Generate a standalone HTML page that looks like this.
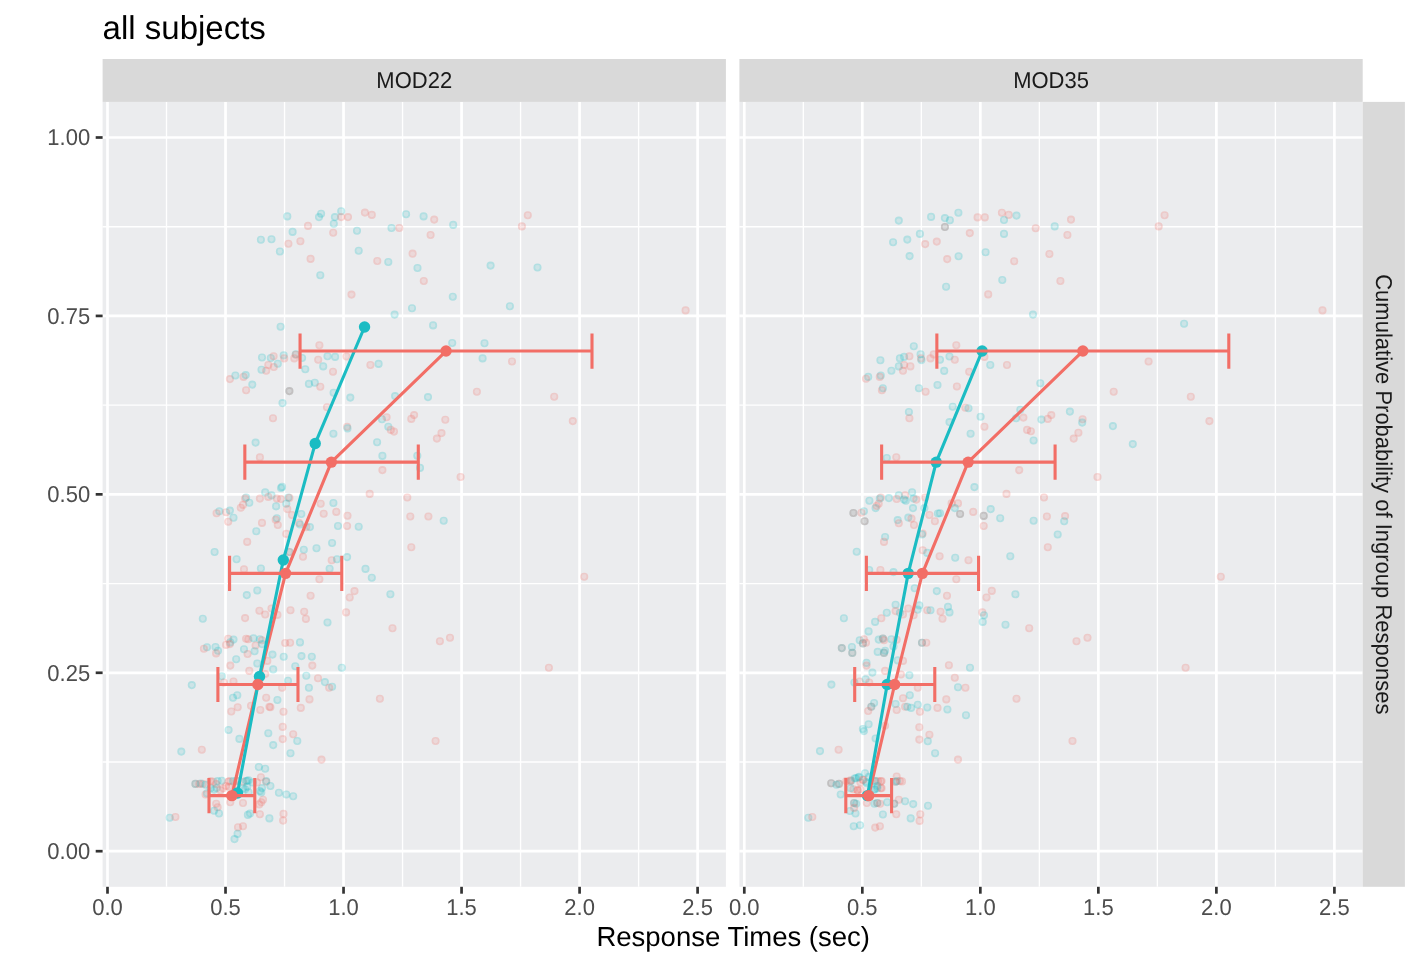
<!DOCTYPE html><html><head><meta charset="utf-8"><style>html,body{margin:0;padding:0;background:#fff;width:1420px;height:967px;overflow:hidden;}svg{display:block;}text{font-family:"Liberation Sans",sans-serif;text-rendering:geometricPrecision;}</style></head><body>
<div style="position:absolute;left:0;top:0;width:1420px;height:967px;will-change:transform">
<svg width="1420" height="967" viewBox="0 0 1420 967">
<defs><g id="pr"><circle r="2.5" fill="#F26E66" fill-opacity="0.15"/><circle r="3.25" fill="none" stroke="#F26E66" stroke-opacity="0.27" stroke-width="1.6"/></g><g id="pt"><circle r="2.5" fill="#1BBCC3" fill-opacity="0.15"/><circle r="3.25" fill="none" stroke="#1BBCC3" stroke-opacity="0.27" stroke-width="1.6"/></g></defs>
<text x="102.6" y="38.5" font-size="33" fill="#000">all subjects</text>
<rect x="102.60" y="101.9" width="623.30" height="784.90" fill="#EBECEE"/>
<line x1="166.51" y1="101.9" x2="166.51" y2="886.8" stroke="#fff" stroke-width="1.35"/>
<line x1="284.53" y1="101.9" x2="284.53" y2="886.8" stroke="#fff" stroke-width="1.35"/>
<line x1="402.55" y1="101.9" x2="402.55" y2="886.8" stroke="#fff" stroke-width="1.35"/>
<line x1="520.57" y1="101.9" x2="520.57" y2="886.8" stroke="#fff" stroke-width="1.35"/>
<line x1="638.59" y1="101.9" x2="638.59" y2="886.8" stroke="#fff" stroke-width="1.35"/>
<line x1="102.60" y1="761.99" x2="725.90" y2="761.99" stroke="#fff" stroke-width="1.35"/>
<line x1="102.60" y1="583.56" x2="725.90" y2="583.56" stroke="#fff" stroke-width="1.35"/>
<line x1="102.60" y1="405.14" x2="725.90" y2="405.14" stroke="#fff" stroke-width="1.35"/>
<line x1="102.60" y1="226.71" x2="725.90" y2="226.71" stroke="#fff" stroke-width="1.35"/>
<line x1="107.50" y1="101.9" x2="107.50" y2="886.8" stroke="#fff" stroke-width="2.7"/>
<line x1="225.52" y1="101.9" x2="225.52" y2="886.8" stroke="#fff" stroke-width="2.7"/>
<line x1="343.54" y1="101.9" x2="343.54" y2="886.8" stroke="#fff" stroke-width="2.7"/>
<line x1="461.56" y1="101.9" x2="461.56" y2="886.8" stroke="#fff" stroke-width="2.7"/>
<line x1="579.58" y1="101.9" x2="579.58" y2="886.8" stroke="#fff" stroke-width="2.7"/>
<line x1="697.60" y1="101.9" x2="697.60" y2="886.8" stroke="#fff" stroke-width="2.7"/>
<line x1="102.60" y1="851.20" x2="725.90" y2="851.20" stroke="#fff" stroke-width="2.7"/>
<line x1="102.60" y1="672.78" x2="725.90" y2="672.78" stroke="#fff" stroke-width="2.7"/>
<line x1="102.60" y1="494.35" x2="725.90" y2="494.35" stroke="#fff" stroke-width="2.7"/>
<line x1="102.60" y1="315.92" x2="725.90" y2="315.92" stroke="#fff" stroke-width="2.7"/>
<line x1="102.60" y1="137.50" x2="725.90" y2="137.50" stroke="#fff" stroke-width="2.7"/>
<rect x="102.60" y="59.0" width="623.30" height="42.90" fill="#D9D9D9"/>
<text x="0" y="0" font-size="22" fill="#1A1A1A" text-anchor="middle" transform="translate(414.25,88.15) scale(1,1.04)">MOD22</text>
<line x1="107.50" y1="886.8" x2="107.50" y2="893.70" stroke="#333" stroke-width="2.7"/>
<text x="0" y="0" font-size="22" fill="#4D4D4D" text-anchor="middle" transform="translate(107.50,915.2) scale(1.0,1.045)">0.0</text>
<line x1="225.52" y1="886.8" x2="225.52" y2="893.70" stroke="#333" stroke-width="2.7"/>
<text x="0" y="0" font-size="22" fill="#4D4D4D" text-anchor="middle" transform="translate(225.52,915.2) scale(1.0,1.045)">0.5</text>
<line x1="343.54" y1="886.8" x2="343.54" y2="893.70" stroke="#333" stroke-width="2.7"/>
<text x="0" y="0" font-size="22" fill="#4D4D4D" text-anchor="middle" transform="translate(343.54,915.2) scale(1.0,1.045)">1.0</text>
<line x1="461.56" y1="886.8" x2="461.56" y2="893.70" stroke="#333" stroke-width="2.7"/>
<text x="0" y="0" font-size="22" fill="#4D4D4D" text-anchor="middle" transform="translate(461.56,915.2) scale(1.0,1.045)">1.5</text>
<line x1="579.58" y1="886.8" x2="579.58" y2="893.70" stroke="#333" stroke-width="2.7"/>
<text x="0" y="0" font-size="22" fill="#4D4D4D" text-anchor="middle" transform="translate(579.58,915.2) scale(1.0,1.045)">2.0</text>
<line x1="697.60" y1="886.8" x2="697.60" y2="893.70" stroke="#333" stroke-width="2.7"/>
<text x="0" y="0" font-size="22" fill="#4D4D4D" text-anchor="middle" transform="translate(697.60,915.2) scale(1.0,1.045)">2.5</text>
<rect x="739.40" y="101.9" width="623.30" height="784.90" fill="#EBECEE"/>
<line x1="803.31" y1="101.9" x2="803.31" y2="886.8" stroke="#fff" stroke-width="1.35"/>
<line x1="921.33" y1="101.9" x2="921.33" y2="886.8" stroke="#fff" stroke-width="1.35"/>
<line x1="1039.35" y1="101.9" x2="1039.35" y2="886.8" stroke="#fff" stroke-width="1.35"/>
<line x1="1157.37" y1="101.9" x2="1157.37" y2="886.8" stroke="#fff" stroke-width="1.35"/>
<line x1="1275.39" y1="101.9" x2="1275.39" y2="886.8" stroke="#fff" stroke-width="1.35"/>
<line x1="739.40" y1="761.99" x2="1362.70" y2="761.99" stroke="#fff" stroke-width="1.35"/>
<line x1="739.40" y1="583.56" x2="1362.70" y2="583.56" stroke="#fff" stroke-width="1.35"/>
<line x1="739.40" y1="405.14" x2="1362.70" y2="405.14" stroke="#fff" stroke-width="1.35"/>
<line x1="739.40" y1="226.71" x2="1362.70" y2="226.71" stroke="#fff" stroke-width="1.35"/>
<line x1="744.30" y1="101.9" x2="744.30" y2="886.8" stroke="#fff" stroke-width="2.7"/>
<line x1="862.32" y1="101.9" x2="862.32" y2="886.8" stroke="#fff" stroke-width="2.7"/>
<line x1="980.34" y1="101.9" x2="980.34" y2="886.8" stroke="#fff" stroke-width="2.7"/>
<line x1="1098.36" y1="101.9" x2="1098.36" y2="886.8" stroke="#fff" stroke-width="2.7"/>
<line x1="1216.38" y1="101.9" x2="1216.38" y2="886.8" stroke="#fff" stroke-width="2.7"/>
<line x1="1334.40" y1="101.9" x2="1334.40" y2="886.8" stroke="#fff" stroke-width="2.7"/>
<line x1="739.40" y1="851.20" x2="1362.70" y2="851.20" stroke="#fff" stroke-width="2.7"/>
<line x1="739.40" y1="672.78" x2="1362.70" y2="672.78" stroke="#fff" stroke-width="2.7"/>
<line x1="739.40" y1="494.35" x2="1362.70" y2="494.35" stroke="#fff" stroke-width="2.7"/>
<line x1="739.40" y1="315.92" x2="1362.70" y2="315.92" stroke="#fff" stroke-width="2.7"/>
<line x1="739.40" y1="137.50" x2="1362.70" y2="137.50" stroke="#fff" stroke-width="2.7"/>
<rect x="739.40" y="59.0" width="623.30" height="42.90" fill="#D9D9D9"/>
<text x="0" y="0" font-size="22" fill="#1A1A1A" text-anchor="middle" transform="translate(1051.05,88.15) scale(1,1.04)">MOD35</text>
<line x1="744.30" y1="886.8" x2="744.30" y2="893.70" stroke="#333" stroke-width="2.7"/>
<text x="0" y="0" font-size="22" fill="#4D4D4D" text-anchor="middle" transform="translate(744.30,915.2) scale(1.0,1.045)">0.0</text>
<line x1="862.32" y1="886.8" x2="862.32" y2="893.70" stroke="#333" stroke-width="2.7"/>
<text x="0" y="0" font-size="22" fill="#4D4D4D" text-anchor="middle" transform="translate(862.32,915.2) scale(1.0,1.045)">0.5</text>
<line x1="980.34" y1="886.8" x2="980.34" y2="893.70" stroke="#333" stroke-width="2.7"/>
<text x="0" y="0" font-size="22" fill="#4D4D4D" text-anchor="middle" transform="translate(980.34,915.2) scale(1.0,1.045)">1.0</text>
<line x1="1098.36" y1="886.8" x2="1098.36" y2="893.70" stroke="#333" stroke-width="2.7"/>
<text x="0" y="0" font-size="22" fill="#4D4D4D" text-anchor="middle" transform="translate(1098.36,915.2) scale(1.0,1.045)">1.5</text>
<line x1="1216.38" y1="886.8" x2="1216.38" y2="893.70" stroke="#333" stroke-width="2.7"/>
<text x="0" y="0" font-size="22" fill="#4D4D4D" text-anchor="middle" transform="translate(1216.38,915.2) scale(1.0,1.045)">2.0</text>
<line x1="1334.40" y1="886.8" x2="1334.40" y2="893.70" stroke="#333" stroke-width="2.7"/>
<text x="0" y="0" font-size="22" fill="#4D4D4D" text-anchor="middle" transform="translate(1334.40,915.2) scale(1.0,1.045)">2.5</text>
<rect x="1362.70" y="101.9" width="42.20" height="784.90" fill="#D9D9D9"/>
<text x="0" y="0" font-size="22" fill="#1A1A1A" text-anchor="middle" transform="translate(1376.00,494.35) rotate(90) scale(1,1.04)">Cumulative Probability of Ingroup Responses</text>
<line x1="95.70" y1="851.20" x2="102.6" y2="851.20" stroke="#333" stroke-width="2.7"/>
<text x="0" y="0" font-size="22" fill="#4D4D4D" text-anchor="end" transform="translate(90.2,858.95) scale(1.0,1.045)">0.00</text>
<line x1="95.70" y1="672.78" x2="102.6" y2="672.78" stroke="#333" stroke-width="2.7"/>
<text x="0" y="0" font-size="22" fill="#4D4D4D" text-anchor="end" transform="translate(90.2,680.53) scale(1.0,1.045)">0.25</text>
<line x1="95.70" y1="494.35" x2="102.6" y2="494.35" stroke="#333" stroke-width="2.7"/>
<text x="0" y="0" font-size="22" fill="#4D4D4D" text-anchor="end" transform="translate(90.2,502.10) scale(1.0,1.045)">0.50</text>
<line x1="95.70" y1="315.92" x2="102.6" y2="315.92" stroke="#333" stroke-width="2.7"/>
<text x="0" y="0" font-size="22" fill="#4D4D4D" text-anchor="end" transform="translate(90.2,323.67) scale(1.0,1.045)">0.75</text>
<line x1="95.70" y1="137.50" x2="102.6" y2="137.50" stroke="#333" stroke-width="2.7"/>
<text x="0" y="0" font-size="22" fill="#4D4D4D" text-anchor="end" transform="translate(90.2,145.25) scale(1.0,1.045)">1.00</text>
<text x="733.2" y="946.3" font-size="27.5" fill="#000" text-anchor="middle">Response Times (sec)</text>
<svg x="102.60" y="101.9" width="623.30" height="784.90" viewBox="102.60 101.9 623.30 784.90" overflow="hidden">
<use href="#pt" x="287.3" y="216.4"/>
<use href="#pt" x="321.1" y="213.7"/>
<use href="#pt" x="319.0" y="217.1"/>
<use href="#pt" x="334.9" y="217.1"/>
<use href="#pt" x="341.2" y="211.2"/>
<use href="#pt" x="333.8" y="223.8"/>
<use href="#pr" x="341.2" y="217.1"/>
<use href="#pr" x="348.0" y="217.1"/>
<use href="#pr" x="364.9" y="212.6"/>
<use href="#pr" x="371.8" y="214.9"/>
<use href="#pt" x="406.1" y="214.3"/>
<use href="#pt" x="423.6" y="216.4"/>
<use href="#pr" x="434.2" y="219.6"/>
<use href="#pr" x="308.0" y="225.9"/>
<use href="#pt" x="292.6" y="231.9"/>
<use href="#pr" x="333.2" y="232.7"/>
<use href="#pt" x="357.0" y="230.8"/>
<use href="#pt" x="391.5" y="228.0"/>
<use href="#pr" x="399.3" y="228.0"/>
<use href="#pr" x="430.6" y="235.0"/>
<use href="#pt" x="260.9" y="239.8"/>
<use href="#pt" x="271.5" y="239.2"/>
<use href="#pr" x="288.4" y="243.8"/>
<use href="#pr" x="300.4" y="241.3"/>
<use href="#pt" x="279.9" y="251.5"/>
<use href="#pt" x="358.7" y="250.8"/>
<use href="#pr" x="412.6" y="253.6"/>
<use href="#pr" x="310.6" y="258.9"/>
<use href="#pr" x="377.3" y="261.0"/>
<use href="#pt" x="388.3" y="262.0"/>
<use href="#pt" x="417.5" y="268.0"/>
<use href="#pt" x="320.3" y="275.2"/>
<use href="#pr" x="423.8" y="281.0"/>
<use href="#pr" x="351.5" y="294.6"/>
<use href="#pt" x="412.0" y="308.3"/>
<use href="#pt" x="394.6" y="314.6"/>
<use href="#pt" x="433.1" y="325.4"/>
<use href="#pt" x="280.6" y="326.7"/>
<use href="#pr" x="319.4" y="345.3"/>
<use href="#pt" x="262.0" y="357.5"/>
<use href="#pt" x="270.8" y="358.0"/>
<use href="#pr" x="273.6" y="356.2"/>
<use href="#pt" x="283.7" y="355.4"/>
<use href="#pr" x="284.2" y="358.4"/>
<use href="#pt" x="295.8" y="354.2"/>
<use href="#pr" x="295.8" y="354.8"/>
<use href="#pr" x="294.3" y="358.4"/>
<use href="#pt" x="302.1" y="358.0"/>
<use href="#pt" x="327.5" y="356.2"/>
<use href="#pt" x="335.1" y="356.9"/>
<use href="#pr" x="346.5" y="356.5"/>
<use href="#pr" x="318.2" y="359.7"/>
<use href="#pr" x="268.3" y="365.0"/>
<use href="#pt" x="277.8" y="363.7"/>
<use href="#pr" x="273.8" y="367.0"/>
<use href="#pt" x="261.5" y="369.8"/>
<use href="#pr" x="266.2" y="370.7"/>
<use href="#pt" x="305.3" y="369.2"/>
<use href="#pt" x="323.2" y="366.4"/>
<use href="#pr" x="333.0" y="371.7"/>
<use href="#pr" x="370.4" y="365.0"/>
<use href="#pt" x="378.6" y="363.9"/>
<use href="#pr" x="229.9" y="379.1"/>
<use href="#pt" x="235.4" y="375.5"/>
<use href="#pr" x="243.6" y="376.9"/>
<use href="#pt" x="245.7" y="375.1"/>
<use href="#pt" x="252.3" y="384.6"/>
<use href="#pt" x="333.6" y="392.8"/>
<use href="#pr" x="246.1" y="390.3"/>
<use href="#pt" x="289.4" y="391.1"/>
<use href="#pr" x="289.4" y="391.1"/>
<use href="#pt" x="308.9" y="383.9"/>
<use href="#pt" x="314.8" y="382.7"/>
<use href="#pr" x="320.3" y="386.7"/>
<use href="#pt" x="453.2" y="224.9"/>
<use href="#pr" x="527.8" y="215.2"/>
<use href="#pr" x="521.9" y="226.4"/>
<use href="#pt" x="490.6" y="265.6"/>
<use href="#pt" x="537.5" y="267.5"/>
<use href="#pt" x="452.8" y="296.7"/>
<use href="#pt" x="509.9" y="306.2"/>
<use href="#pr" x="685.6" y="310.4"/>
<use href="#pt" x="452.2" y="343.0"/>
<use href="#pt" x="484.5" y="343.2"/>
<use href="#pt" x="482.6" y="358.4"/>
<use href="#pr" x="512.0" y="361.5"/>
<use href="#pr" x="476.9" y="391.8"/>
<use href="#pt" x="350.3" y="397.6"/>
<use href="#pt" x="395.1" y="396.1"/>
<use href="#pt" x="428.0" y="397.1"/>
<use href="#pt" x="282.5" y="403.1"/>
<use href="#pr" x="327.0" y="407.3"/>
<use href="#pr" x="273.0" y="418.3"/>
<use href="#pt" x="382.0" y="419.3"/>
<use href="#pr" x="386.6" y="417.3"/>
<use href="#pr" x="414.1" y="415.1"/>
<use href="#pr" x="411.3" y="418.9"/>
<use href="#pr" x="445.3" y="419.8"/>
<use href="#pr" x="347.1" y="426.8"/>
<use href="#pt" x="347.5" y="428.4"/>
<use href="#pt" x="333.4" y="433.7"/>
<use href="#pt" x="388.3" y="426.8"/>
<use href="#pr" x="390.8" y="429.9"/>
<use href="#pr" x="394.0" y="431.6"/>
<use href="#pr" x="441.5" y="433.1"/>
<use href="#pr" x="436.9" y="438.6"/>
<use href="#pt" x="255.6" y="442.6"/>
<use href="#pt" x="377.1" y="442.2"/>
<use href="#pt" x="382.4" y="455.9"/>
<use href="#pt" x="417.3" y="455.7"/>
<use href="#pr" x="259.9" y="457.4"/>
<use href="#pt" x="420.0" y="467.9"/>
<use href="#pr" x="382.4" y="470.1"/>
<use href="#pt" x="282.1" y="486.9"/>
<use href="#pt" x="281.0" y="488.0"/>
<use href="#pt" x="265.2" y="492.4"/>
<use href="#pt" x="271.5" y="495.4"/>
<use href="#pt" x="246.1" y="497.5"/>
<use href="#pr" x="245.1" y="498.6"/>
<use href="#pr" x="259.9" y="498.6"/>
<use href="#pr" x="268.3" y="496.9"/>
<use href="#pr" x="276.8" y="498.6"/>
<use href="#pr" x="281.0" y="499.0"/>
<use href="#pt" x="288.4" y="497.5"/>
<use href="#pr" x="289.4" y="497.9"/>
<use href="#pt" x="286.3" y="503.8"/>
<use href="#pr" x="287.3" y="509.1"/>
<use href="#pr" x="369.7" y="493.9"/>
<use href="#pr" x="407.3" y="497.5"/>
<use href="#pt" x="249.3" y="502.8"/>
<use href="#pr" x="243.0" y="504.9"/>
<use href="#pr" x="240.8" y="507.7"/>
<use href="#pt" x="276.1" y="506.4"/>
<use href="#pr" x="320.7" y="503.8"/>
<use href="#pt" x="333.4" y="503.0"/>
<use href="#pt" x="219.3" y="511.3"/>
<use href="#pr" x="216.6" y="513.3"/>
<use href="#pr" x="226.1" y="512.3"/>
<use href="#pt" x="229.9" y="510.6"/>
<use href="#pt" x="233.5" y="517.8"/>
<use href="#pr" x="228.2" y="521.8"/>
<use href="#pr" x="323.7" y="513.8"/>
<use href="#pr" x="336.3" y="511.9"/>
<use href="#pr" x="347.5" y="515.7"/>
<use href="#pt" x="301.3" y="514.0"/>
<use href="#pr" x="292.0" y="515.0"/>
<use href="#pt" x="276.8" y="518.3"/>
<use href="#pr" x="275.7" y="519.7"/>
<use href="#pr" x="277.8" y="525.0"/>
<use href="#pr" x="262.0" y="522.9"/>
<use href="#pr" x="299.0" y="522.9"/>
<use href="#pt" x="300.0" y="524.5"/>
<use href="#pt" x="309.9" y="527.1"/>
<use href="#pr" x="306.3" y="527.1"/>
<use href="#pt" x="338.0" y="526.0"/>
<use href="#pr" x="347.1" y="526.0"/>
<use href="#pt" x="358.7" y="526.7"/>
<use href="#pr" x="410.3" y="516.5"/>
<use href="#pr" x="428.4" y="516.5"/>
<use href="#pt" x="443.7" y="520.8"/>
<use href="#pt" x="256.3" y="531.3"/>
<use href="#pr" x="286.3" y="533.9"/>
<use href="#pr" x="247.2" y="541.9"/>
<use href="#pt" x="214.6" y="552.0"/>
<use href="#pt" x="332.1" y="543.0"/>
<use href="#pt" x="316.5" y="548.2"/>
<use href="#pt" x="303.8" y="549.7"/>
<use href="#pt" x="289.4" y="552.0"/>
<use href="#pr" x="289.4" y="552.0"/>
<use href="#pr" x="303.0" y="556.7"/>
<use href="#pr" x="411.3" y="547.2"/>
<use href="#pt" x="236.6" y="559.2"/>
<use href="#pr" x="331.7" y="560.3"/>
<use href="#pt" x="337.0" y="559.2"/>
<use href="#pt" x="347.1" y="557.1"/>
<use href="#pr" x="244.0" y="569.4"/>
<use href="#pt" x="260.9" y="568.5"/>
<use href="#pt" x="329.6" y="568.7"/>
<use href="#pt" x="365.5" y="568.9"/>
<use href="#pt" x="371.8" y="577.8"/>
<use href="#pr" x="319.4" y="579.3"/>
<use href="#pt" x="257.3" y="590.5"/>
<use href="#pt" x="246.8" y="595.1"/>
<use href="#pr" x="310.6" y="595.8"/>
<use href="#pr" x="349.7" y="597.5"/>
<use href="#pr" x="354.5" y="591.1"/>
<use href="#pt" x="390.4" y="594.3"/>
<use href="#pr" x="554.2" y="396.7"/>
<use href="#pr" x="572.8" y="421.1"/>
<use href="#pr" x="460.6" y="477.0"/>
<use href="#pr" x="584.2" y="576.7"/>
<use href="#pr" x="346.1" y="612.4"/>
<use href="#pt" x="202.8" y="618.7"/>
<use href="#pr" x="245.1" y="618.1"/>
<use href="#pr" x="259.4" y="610.7"/>
<use href="#pr" x="265.2" y="614.5"/>
<use href="#pr" x="271.5" y="608.5"/>
<use href="#pr" x="277.4" y="614.9"/>
<use href="#pr" x="290.5" y="610.3"/>
<use href="#pr" x="304.2" y="611.8"/>
<use href="#pr" x="305.9" y="618.9"/>
<use href="#pt" x="327.5" y="622.5"/>
<use href="#pr" x="392.5" y="628.2"/>
<use href="#pr" x="439.9" y="641.3"/>
<use href="#pr" x="450.0" y="637.7"/>
<use href="#pr" x="228.2" y="638.8"/>
<use href="#pt" x="233.5" y="639.6"/>
<use href="#pt" x="230.3" y="642.4"/>
<use href="#pr" x="226.1" y="644.9"/>
<use href="#pr" x="229.9" y="644.1"/>
<use href="#pr" x="246.1" y="638.8"/>
<use href="#pr" x="248.3" y="639.2"/>
<use href="#pt" x="253.5" y="638.2"/>
<use href="#pt" x="259.9" y="639.2"/>
<use href="#pr" x="262.0" y="640.2"/>
<use href="#pr" x="255.6" y="645.5"/>
<use href="#pt" x="262.0" y="644.1"/>
<use href="#pt" x="207.0" y="647.2"/>
<use href="#pr" x="203.9" y="648.7"/>
<use href="#pt" x="215.5" y="647.0"/>
<use href="#pt" x="218.0" y="650.8"/>
<use href="#pr" x="216.1" y="653.4"/>
<use href="#pt" x="244.0" y="649.2"/>
<use href="#pr" x="247.6" y="654.0"/>
<use href="#pt" x="254.6" y="651.2"/>
<use href="#pr" x="285.2" y="643.0"/>
<use href="#pr" x="290.1" y="642.8"/>
<use href="#pt" x="300.0" y="642.4"/>
<use href="#pt" x="272.5" y="654.6"/>
<use href="#pt" x="283.7" y="656.7"/>
<use href="#pt" x="301.5" y="656.1"/>
<use href="#pt" x="311.8" y="656.7"/>
<use href="#pt" x="236.2" y="659.3"/>
<use href="#pr" x="267.3" y="660.9"/>
<use href="#pr" x="230.3" y="665.6"/>
<use href="#pt" x="257.3" y="663.5"/>
<use href="#pr" x="249.3" y="670.9"/>
<use href="#pt" x="273.2" y="669.4"/>
<use href="#pt" x="295.3" y="666.2"/>
<use href="#pr" x="312.3" y="665.6"/>
<use href="#pt" x="341.8" y="667.7"/>
<use href="#pt" x="221.8" y="676.2"/>
<use href="#pr" x="233.5" y="681.5"/>
<use href="#pr" x="223.9" y="682.5"/>
<use href="#pt" x="191.8" y="685.1"/>
<use href="#pr" x="265.2" y="674.1"/>
<use href="#pt" x="288.0" y="680.8"/>
<use href="#pr" x="282.1" y="687.8"/>
<use href="#pt" x="306.3" y="675.8"/>
<use href="#pr" x="318.0" y="678.3"/>
<use href="#pt" x="324.9" y="682.1"/>
<use href="#pt" x="332.1" y="686.8"/>
<use href="#pr" x="329.2" y="687.8"/>
<use href="#pt" x="308.9" y="687.8"/>
<use href="#pr" x="309.5" y="699.4"/>
<use href="#pr" x="379.9" y="698.8"/>
<use href="#pt" x="233.0" y="697.7"/>
<use href="#pt" x="237.3" y="695.2"/>
<use href="#pr" x="266.2" y="697.7"/>
<use href="#pt" x="277.4" y="700.0"/>
<use href="#pr" x="269.4" y="706.8"/>
<use href="#pr" x="270.4" y="707.2"/>
<use href="#pr" x="251.0" y="705.7"/>
<use href="#pr" x="237.7" y="707.2"/>
<use href="#pr" x="231.3" y="711.5"/>
<use href="#pr" x="260.3" y="710.0"/>
<use href="#pr" x="283.5" y="711.7"/>
<use href="#pr" x="300.8" y="707.9"/>
<use href="#pr" x="282.7" y="726.9"/>
<use href="#pr" x="293.2" y="734.3"/>
<use href="#pt" x="228.6" y="730.0"/>
<use href="#pt" x="268.3" y="733.2"/>
<use href="#pt" x="239.4" y="738.9"/>
<use href="#pr" x="282.7" y="739.1"/>
<use href="#pt" x="297.3" y="741.0"/>
<use href="#pt" x="273.2" y="745.1"/>
<use href="#pt" x="290.5" y="753.3"/>
<use href="#pt" x="181.3" y="751.6"/>
<use href="#pr" x="201.8" y="749.7"/>
<use href="#pr" x="321.5" y="759.6"/>
<use href="#pr" x="435.6" y="741.0"/>
<use href="#pt" x="258.8" y="767.0"/>
<use href="#pt" x="265.2" y="768.7"/>
<use href="#pr" x="260.9" y="777.2"/>
<use href="#pr" x="195.4" y="783.9"/>
<use href="#pt" x="195.4" y="783.9"/>
<use href="#pr" x="202.8" y="783.9"/>
<use href="#pt" x="200.7" y="783.5"/>
<use href="#pr" x="213.4" y="781.8"/>
<use href="#pt" x="221.8" y="780.8"/>
<use href="#pr" x="228.2" y="781.8"/>
<use href="#pt" x="236.6" y="780.8"/>
<use href="#pr" x="243.0" y="781.8"/>
<use href="#pt" x="247.2" y="780.8"/>
<use href="#pr" x="266.2" y="781.8"/>
<use href="#pt" x="270.4" y="786.0"/>
<use href="#pt" x="278.9" y="792.8"/>
<use href="#pt" x="286.3" y="794.5"/>
<use href="#pt" x="293.2" y="796.2"/>
<use href="#pt" x="216.6" y="788.1"/>
<use href="#pt" x="262.0" y="788.1"/>
<use href="#pt" x="245.1" y="789.2"/>
<use href="#pt" x="207.0" y="793.4"/>
<use href="#pr" x="263.0" y="799.7"/>
<use href="#pr" x="548.9" y="667.7"/>
<use href="#pr" x="216.2" y="803.7"/>
<use href="#pr" x="217.6" y="807.2"/>
<use href="#pt" x="219.0" y="813.5"/>
<use href="#pt" x="214.1" y="810.7"/>
<use href="#pr" x="230.3" y="802.2"/>
<use href="#pr" x="243.0" y="803.0"/>
<use href="#pr" x="261.3" y="802.2"/>
<use href="#pr" x="259.2" y="804.4"/>
<use href="#pr" x="259.9" y="814.2"/>
<use href="#pt" x="247.9" y="814.9"/>
<use href="#pt" x="250.0" y="813.5"/>
<use href="#pt" x="269.4" y="818.4"/>
<use href="#pr" x="283.5" y="813.9"/>
<use href="#pr" x="283.1" y="820.6"/>
<use href="#pt" x="169.7" y="817.7"/>
<use href="#pr" x="175.4" y="817.0"/>
<use href="#pr" x="238.0" y="827.3"/>
<use href="#pr" x="243.0" y="826.2"/>
<use href="#pt" x="237.6" y="833.9"/>
<use href="#pt" x="234.5" y="839.1"/>
<use href="#pr" x="223.2" y="788.2"/>
<use href="#pr" x="228.9" y="786.8"/>
<use href="#pt" x="214.1" y="789.6"/>
<use href="#pt" x="247.2" y="786.8"/>
<use href="#pt" x="248.6" y="792.4"/>
<use href="#pt" x="259.9" y="791.0"/>
<use href="#pr" x="205.6" y="794.5"/>
<use href="#pr" x="199.3" y="784.0"/>
<use href="#pt" x="205.6" y="784.7"/>
<use href="#pr" x="210.6" y="781.1"/>
<use href="#pt" x="217.6" y="781.1"/>
<use href="#pr" x="229.6" y="781.1"/>
<use href="#pt" x="233.1" y="781.1"/>
<use href="#pr" x="237.3" y="781.1"/>
<use href="#pt" x="245.8" y="781.1"/>
<use href="#pt" x="248.6" y="780.4"/>
<use href="#pt" x="266.2" y="781.1"/>
<use href="#pt" x="210.6" y="788.2"/>
<use href="#pr" x="220.4" y="790.3"/>
<use href="#pr" x="226.1" y="786.0"/>
<use href="#pt" x="243.0" y="788.2"/>
<use href="#pt" x="261.3" y="792.4"/>
<use href="#pr" x="257.0" y="782.5"/>
<use href="#pt" x="252.8" y="782.5"/>
<use href="#pr" x="216.2" y="784.0"/>
<use href="#pr" x="235.9" y="785.3"/>
<path d="M231.89,795.60 L257.86,684.48 L285.59,573.36 L331.34,462.16 L446.05,351.04" fill="none" stroke="#F26E66" stroke-width="3.1" stroke-linejoin="round"/>
<path d="M237.49,792.96 L259.51,676.49 L283.30,560.01 L315.22,443.46 L364.55,326.99" fill="none" stroke="#1BBCC3" stroke-width="3.1" stroke-linejoin="round"/>
<circle cx="237.49" cy="792.96" r="5.7" fill="#1BBCC3"/>
<circle cx="259.51" cy="676.49" r="5.7" fill="#1BBCC3"/>
<circle cx="283.30" cy="560.01" r="5.7" fill="#1BBCC3"/>
<circle cx="315.22" cy="443.46" r="5.7" fill="#1BBCC3"/>
<circle cx="364.55" cy="326.99" r="5.7" fill="#1BBCC3"/>
<circle cx="231.89" cy="795.60" r="5.7" fill="#F26E66"/>
<circle cx="257.86" cy="684.48" r="5.7" fill="#F26E66"/>
<circle cx="285.59" cy="573.36" r="5.7" fill="#F26E66"/>
<circle cx="331.34" cy="462.16" r="5.7" fill="#F26E66"/>
<circle cx="446.05" cy="351.04" r="5.7" fill="#F26E66"/>
<path d="M209.00,795.60 L254.79,795.60 M209.00,778.00 L209.00,813.20 M254.79,778.00 L254.79,813.20" fill="none" stroke="#F26E66" stroke-width="3.1"/>
<path d="M217.90,684.48 L297.98,684.48 M217.90,666.88 L217.90,702.08 M297.98,666.88 L297.98,702.08" fill="none" stroke="#F26E66" stroke-width="3.1"/>
<path d="M229.58,573.36 L341.77,573.36 M229.58,555.76 L229.58,590.96 M341.77,555.76 L341.77,590.96" fill="none" stroke="#F26E66" stroke-width="3.1"/>
<path d="M244.83,462.16 L418.29,462.16 M244.83,444.56 L244.83,479.76 M418.29,444.56 L418.29,479.76" fill="none" stroke="#F26E66" stroke-width="3.1"/>
<path d="M300.06,351.04 L592.00,351.04 M300.06,333.44 L300.06,368.64 M592.00,333.44 L592.00,368.64" fill="none" stroke="#F26E66" stroke-width="3.1"/>
</svg>
<svg x="739.40" y="101.9" width="623.30" height="784.90" viewBox="739.40 101.9 623.30 784.90" overflow="hidden">
<use href="#pt" x="898.8" y="220.6"/>
<use href="#pt" x="931.1" y="216.9"/>
<use href="#pt" x="944.9" y="218.1"/>
<use href="#pt" x="949.9" y="220.2"/>
<use href="#pt" x="958.4" y="212.8"/>
<use href="#pt" x="944.9" y="227.0"/>
<use href="#pr" x="944.9" y="227.0"/>
<use href="#pr" x="977.6" y="217.4"/>
<use href="#pr" x="984.8" y="217.4"/>
<use href="#pr" x="1001.9" y="212.8"/>
<use href="#pr" x="1008.7" y="214.9"/>
<use href="#pt" x="1016.5" y="215.6"/>
<use href="#pt" x="1004.0" y="220.0"/>
<use href="#pr" x="1035.7" y="228.2"/>
<use href="#pt" x="1054.7" y="226.4"/>
<use href="#pr" x="1071.0" y="219.6"/>
<use href="#pr" x="1067.4" y="235.0"/>
<use href="#pt" x="919.9" y="233.9"/>
<use href="#pt" x="907.3" y="239.6"/>
<use href="#pt" x="893.1" y="242.2"/>
<use href="#pr" x="925.2" y="244.1"/>
<use href="#pr" x="936.8" y="241.6"/>
<use href="#pr" x="969.8" y="233.1"/>
<use href="#pt" x="1004.0" y="233.9"/>
<use href="#pt" x="909.6" y="256.1"/>
<use href="#pr" x="947.2" y="259.1"/>
<use href="#pt" x="958.6" y="256.3"/>
<use href="#pt" x="985.6" y="252.3"/>
<use href="#pr" x="1014.2" y="261.2"/>
<use href="#pr" x="1049.4" y="254.0"/>
<use href="#pt" x="1002.3" y="280.0"/>
<use href="#pr" x="1060.4" y="281.0"/>
<use href="#pt" x="946.1" y="286.7"/>
<use href="#pr" x="988.2" y="294.4"/>
<use href="#pt" x="1033.0" y="314.6"/>
<use href="#pt" x="913.8" y="346.3"/>
<use href="#pr" x="956.3" y="345.3"/>
<use href="#pt" x="880.4" y="360.3"/>
<use href="#pt" x="899.9" y="358.4"/>
<use href="#pt" x="904.1" y="356.9"/>
<use href="#pr" x="909.4" y="356.2"/>
<use href="#pt" x="920.6" y="354.2"/>
<use href="#pr" x="921.0" y="358.4"/>
<use href="#pt" x="921.4" y="360.1"/>
<use href="#pr" x="930.5" y="358.4"/>
<use href="#pr" x="933.7" y="354.4"/>
<use href="#pt" x="940.0" y="359.7"/>
<use href="#pt" x="949.5" y="356.5"/>
<use href="#pr" x="954.8" y="359.7"/>
<use href="#pr" x="984.4" y="356.9"/>
<use href="#pt" x="990.3" y="365.0"/>
<use href="#pr" x="1007.0" y="365.0"/>
<use href="#pr" x="904.1" y="365.0"/>
<use href="#pt" x="898.8" y="366.4"/>
<use href="#pr" x="910.4" y="366.4"/>
<use href="#pr" x="903.0" y="370.7"/>
<use href="#pt" x="891.4" y="370.7"/>
<use href="#pt" x="944.2" y="370.9"/>
<use href="#pr" x="969.2" y="371.7"/>
<use href="#pt" x="868.2" y="376.9"/>
<use href="#pr" x="866.0" y="378.7"/>
<use href="#pt" x="880.8" y="375.5"/>
<use href="#pr" x="879.8" y="376.9"/>
<use href="#pt" x="882.9" y="388.2"/>
<use href="#pr" x="881.9" y="390.3"/>
<use href="#pt" x="918.9" y="388.2"/>
<use href="#pr" x="925.6" y="391.8"/>
<use href="#pt" x="937.5" y="385.0"/>
<use href="#pr" x="956.9" y="386.5"/>
<use href="#pt" x="1040.3" y="383.3"/>
<use href="#pr" x="1164.6" y="215.2"/>
<use href="#pr" x="1158.7" y="226.4"/>
<use href="#pr" x="1322.5" y="310.4"/>
<use href="#pt" x="1184.1" y="323.7"/>
<use href="#pr" x="1148.6" y="361.5"/>
<use href="#pr" x="1113.7" y="391.8"/>
<use href="#pt" x="952.7" y="406.7"/>
<use href="#pr" x="965.4" y="407.7"/>
<use href="#pt" x="968.5" y="408.3"/>
<use href="#pt" x="908.9" y="412.0"/>
<use href="#pr" x="909.4" y="418.3"/>
<use href="#pt" x="949.5" y="422.1"/>
<use href="#pt" x="980.6" y="416.8"/>
<use href="#pr" x="984.4" y="426.8"/>
<use href="#pt" x="970.6" y="433.7"/>
<use href="#pt" x="1020.3" y="409.8"/>
<use href="#pt" x="1016.1" y="418.3"/>
<use href="#pr" x="1023.4" y="417.6"/>
<use href="#pt" x="1041.4" y="419.6"/>
<use href="#pr" x="1047.8" y="418.9"/>
<use href="#pr" x="1051.3" y="415.1"/>
<use href="#pt" x="1069.9" y="411.6"/>
<use href="#pr" x="1082.6" y="419.3"/>
<use href="#pt" x="1082.2" y="422.6"/>
<use href="#pr" x="1027.1" y="429.9"/>
<use href="#pr" x="1030.9" y="431.2"/>
<use href="#pt" x="1033.6" y="440.5"/>
<use href="#pr" x="1078.4" y="432.7"/>
<use href="#pr" x="1073.7" y="438.6"/>
<use href="#pt" x="886.8" y="458.0"/>
<use href="#pr" x="896.3" y="457.2"/>
<use href="#pr" x="1019.2" y="470.1"/>
<use href="#pt" x="974.4" y="487.1"/>
<use href="#pr" x="1006.5" y="493.9"/>
<use href="#pr" x="1044.0" y="497.5"/>
<use href="#pt" x="912.1" y="492.2"/>
<use href="#pr" x="905.1" y="495.4"/>
<use href="#pt" x="898.8" y="495.4"/>
<use href="#pt" x="888.9" y="498.1"/>
<use href="#pr" x="880.8" y="497.5"/>
<use href="#pt" x="879.8" y="498.6"/>
<use href="#pt" x="869.4" y="500.7"/>
<use href="#pr" x="896.7" y="499.0"/>
<use href="#pt" x="904.1" y="499.6"/>
<use href="#pt" x="905.8" y="500.7"/>
<use href="#pt" x="913.6" y="498.6"/>
<use href="#pr" x="916.3" y="499.6"/>
<use href="#pr" x="925.2" y="497.5"/>
<use href="#pr" x="878.7" y="503.8"/>
<use href="#pt" x="875.6" y="508.1"/>
<use href="#pr" x="876.6" y="506.0"/>
<use href="#pt" x="863.9" y="511.3"/>
<use href="#pr" x="861.4" y="512.8"/>
<use href="#pt" x="853.4" y="513.0"/>
<use href="#pr" x="853.4" y="513.0"/>
<use href="#pt" x="864.6" y="521.2"/>
<use href="#pr" x="864.6" y="521.2"/>
<use href="#pt" x="913.0" y="508.1"/>
<use href="#pt" x="924.4" y="508.1"/>
<use href="#pr" x="951.6" y="503.4"/>
<use href="#pr" x="958.0" y="503.4"/>
<use href="#pt" x="954.8" y="508.1"/>
<use href="#pt" x="937.9" y="513.5"/>
<use href="#pt" x="940.0" y="513.3"/>
<use href="#pr" x="929.4" y="515.0"/>
<use href="#pr" x="934.9" y="521.2"/>
<use href="#pt" x="960.1" y="514.0"/>
<use href="#pr" x="960.1" y="514.0"/>
<use href="#pr" x="973.2" y="511.9"/>
<use href="#pt" x="983.7" y="515.9"/>
<use href="#pr" x="983.7" y="515.9"/>
<use href="#pt" x="990.7" y="509.1"/>
<use href="#pt" x="1000.2" y="518.3"/>
<use href="#pr" x="983.7" y="526.0"/>
<use href="#pt" x="897.7" y="520.1"/>
<use href="#pr" x="898.8" y="523.3"/>
<use href="#pt" x="908.3" y="517.6"/>
<use href="#pr" x="911.5" y="518.6"/>
<use href="#pr" x="914.0" y="525.0"/>
<use href="#pr" x="922.7" y="533.5"/>
<use href="#pt" x="922.0" y="534.5"/>
<use href="#pt" x="885.1" y="537.0"/>
<use href="#pr" x="884.0" y="541.9"/>
<use href="#pt" x="856.7" y="551.8"/>
<use href="#pr" x="922.7" y="550.3"/>
<use href="#pt" x="927.3" y="552.9"/>
<use href="#pr" x="939.6" y="556.2"/>
<use href="#pt" x="955.2" y="557.7"/>
<use href="#pr" x="968.5" y="560.3"/>
<use href="#pt" x="1010.3" y="556.2"/>
<use href="#pt" x="1033.6" y="520.8"/>
<use href="#pr" x="1046.9" y="516.5"/>
<use href="#pr" x="1065.1" y="516.1"/>
<use href="#pt" x="1064.2" y="521.2"/>
<use href="#pt" x="1057.7" y="534.5"/>
<use href="#pr" x="1047.8" y="547.2"/>
<use href="#pt" x="869.2" y="570.0"/>
<use href="#pr" x="880.4" y="570.0"/>
<use href="#pt" x="893.5" y="572.1"/>
<use href="#pr" x="956.3" y="579.3"/>
<use href="#pt" x="914.7" y="588.3"/>
<use href="#pt" x="936.8" y="591.1"/>
<use href="#pr" x="947.0" y="595.8"/>
<use href="#pr" x="991.8" y="590.9"/>
<use href="#pr" x="986.5" y="597.5"/>
<use href="#pt" x="1015.4" y="594.3"/>
<use href="#pr" x="1190.8" y="396.7"/>
<use href="#pr" x="1209.4" y="421.1"/>
<use href="#pt" x="1112.9" y="426.1"/>
<use href="#pt" x="1132.8" y="444.1"/>
<use href="#pr" x="1097.5" y="477.0"/>
<use href="#pr" x="1220.8" y="576.7"/>
<use href="#pt" x="895.6" y="604.8"/>
<use href="#pt" x="919.3" y="605.4"/>
<use href="#pt" x="917.8" y="609.6"/>
<use href="#pr" x="908.3" y="608.5"/>
<use href="#pr" x="895.6" y="611.1"/>
<use href="#pt" x="899.9" y="612.8"/>
<use href="#pr" x="903.0" y="614.5"/>
<use href="#pt" x="886.8" y="612.8"/>
<use href="#pr" x="881.3" y="618.2"/>
<use href="#pt" x="875.1" y="621.9"/>
<use href="#pr" x="913.6" y="615.3"/>
<use href="#pr" x="927.3" y="610.3"/>
<use href="#pt" x="930.5" y="610.3"/>
<use href="#pr" x="940.6" y="611.8"/>
<use href="#pt" x="948.0" y="606.9"/>
<use href="#pt" x="949.5" y="612.4"/>
<use href="#pr" x="942.5" y="618.7"/>
<use href="#pr" x="982.3" y="612.4"/>
<use href="#pt" x="984.0" y="615.3"/>
<use href="#pt" x="982.7" y="621.9"/>
<use href="#pt" x="1005.5" y="624.8"/>
<use href="#pr" x="1029.2" y="628.2"/>
<use href="#pr" x="1076.5" y="641.3"/>
<use href="#pr" x="1087.5" y="637.7"/>
<use href="#pt" x="843.9" y="618.2"/>
<use href="#pt" x="868.6" y="631.4"/>
<use href="#pt" x="859.7" y="640.2"/>
<use href="#pr" x="863.9" y="639.2"/>
<use href="#pr" x="862.9" y="643.4"/>
<use href="#pt" x="862.9" y="643.4"/>
<use href="#pr" x="866.0" y="642.8"/>
<use href="#pt" x="878.7" y="639.6"/>
<use href="#pr" x="882.9" y="638.6"/>
<use href="#pt" x="882.9" y="638.6"/>
<use href="#pr" x="884.0" y="640.2"/>
<use href="#pt" x="891.4" y="639.2"/>
<use href="#pr" x="896.7" y="639.8"/>
<use href="#pt" x="893.5" y="646.6"/>
<use href="#pr" x="922.0" y="642.8"/>
<use href="#pt" x="922.0" y="642.8"/>
<use href="#pr" x="926.3" y="642.8"/>
<use href="#pr" x="841.8" y="648.1"/>
<use href="#pt" x="841.8" y="648.1"/>
<use href="#pt" x="851.9" y="647.0"/>
<use href="#pr" x="852.3" y="652.9"/>
<use href="#pt" x="852.3" y="652.9"/>
<use href="#pt" x="877.7" y="651.9"/>
<use href="#pr" x="884.0" y="652.9"/>
<use href="#pt" x="884.0" y="652.9"/>
<use href="#pt" x="885.1" y="650.8"/>
<use href="#pr" x="903.0" y="660.9"/>
<use href="#pt" x="897.7" y="660.4"/>
<use href="#pt" x="866.5" y="662.9"/>
<use href="#pr" x="866.5" y="665.6"/>
<use href="#pt" x="872.4" y="672.6"/>
<use href="#pr" x="885.1" y="670.9"/>
<use href="#pr" x="900.9" y="674.5"/>
<use href="#pt" x="909.4" y="675.3"/>
<use href="#pr" x="948.9" y="665.2"/>
<use href="#pt" x="970.0" y="667.7"/>
<use href="#pt" x="831.4" y="684.6"/>
<use href="#pt" x="854.4" y="682.5"/>
<use href="#pr" x="859.7" y="681.5"/>
<use href="#pt" x="865.6" y="679.3"/>
<use href="#pr" x="869.2" y="682.5"/>
<use href="#pr" x="917.8" y="687.8"/>
<use href="#pr" x="954.8" y="677.8"/>
<use href="#pt" x="958.0" y="687.3"/>
<use href="#pr" x="965.4" y="687.8"/>
<use href="#pr" x="1016.5" y="698.8"/>
<use href="#pt" x="909.8" y="695.2"/>
<use href="#pr" x="903.0" y="698.3"/>
<use href="#pr" x="946.3" y="699.4"/>
<use href="#pt" x="874.1" y="703.0"/>
<use href="#pr" x="871.3" y="706.8"/>
<use href="#pt" x="871.3" y="706.8"/>
<use href="#pr" x="868.2" y="711.0"/>
<use href="#pt" x="895.6" y="704.0"/>
<use href="#pr" x="896.7" y="710.0"/>
<use href="#pr" x="905.1" y="706.8"/>
<use href="#pt" x="907.3" y="706.8"/>
<use href="#pt" x="911.1" y="707.9"/>
<use href="#pt" x="917.8" y="704.7"/>
<use href="#pr" x="919.9" y="711.7"/>
<use href="#pt" x="927.3" y="707.5"/>
<use href="#pr" x="937.5" y="707.9"/>
<use href="#pt" x="947.4" y="709.5"/>
<use href="#pt" x="966.0" y="715.2"/>
<use href="#pt" x="868.6" y="724.2"/>
<use href="#pt" x="862.9" y="729.0"/>
<use href="#pt" x="863.9" y="731.1"/>
<use href="#pr" x="885.1" y="725.8"/>
<use href="#pr" x="919.3" y="727.3"/>
<use href="#pr" x="929.4" y="734.7"/>
<use href="#pr" x="919.3" y="739.6"/>
<use href="#pt" x="927.8" y="741.2"/>
<use href="#pt" x="875.6" y="738.5"/>
<use href="#pt" x="820.0" y="751.1"/>
<use href="#pr" x="838.6" y="749.7"/>
<use href="#pt" x="935.1" y="753.3"/>
<use href="#pr" x="958.0" y="759.6"/>
<use href="#pr" x="1072.5" y="741.0"/>
<use href="#pt" x="865.0" y="773.3"/>
<use href="#pt" x="858.7" y="777.5"/>
<use href="#pt" x="831.2" y="783.3"/>
<use href="#pr" x="831.2" y="783.3"/>
<use href="#pt" x="839.0" y="783.9"/>
<use href="#pr" x="839.0" y="783.9"/>
<use href="#pr" x="850.2" y="781.4"/>
<use href="#pt" x="851.3" y="780.8"/>
<use href="#pr" x="862.9" y="780.1"/>
<use href="#pt" x="866.0" y="781.8"/>
<use href="#pt" x="875.6" y="781.0"/>
<use href="#pr" x="880.8" y="781.4"/>
<use href="#pt" x="895.6" y="781.8"/>
<use href="#pr" x="895.6" y="781.8"/>
<use href="#pr" x="896.7" y="776.5"/>
<use href="#pr" x="902.0" y="781.4"/>
<use href="#pt" x="840.7" y="794.5"/>
<use href="#pr" x="853.4" y="789.2"/>
<use href="#pr" x="857.6" y="790.3"/>
<use href="#pt" x="874.5" y="789.2"/>
<use href="#pr" x="880.8" y="788.1"/>
<use href="#pr" x="898.8" y="799.7"/>
<use href="#pt" x="905.1" y="801.2"/>
<use href="#pr" x="1185.6" y="667.7"/>
<use href="#pr" x="854.1" y="803.0"/>
<use href="#pt" x="854.1" y="803.0"/>
<use href="#pt" x="856.2" y="803.7"/>
<use href="#pr" x="866.8" y="803.0"/>
<use href="#pt" x="874.5" y="803.7"/>
<use href="#pr" x="877.3" y="803.0"/>
<use href="#pt" x="877.3" y="803.0"/>
<use href="#pr" x="880.1" y="803.7"/>
<use href="#pt" x="887.2" y="802.2"/>
<use href="#pr" x="894.2" y="803.7"/>
<use href="#pt" x="894.2" y="803.7"/>
<use href="#pt" x="913.2" y="804.1"/>
<use href="#pt" x="928.0" y="805.8"/>
<use href="#pt" x="849.9" y="811.0"/>
<use href="#pt" x="855.5" y="813.5"/>
<use href="#pr" x="854.1" y="807.9"/>
<use href="#pt" x="882.9" y="814.5"/>
<use href="#pr" x="896.3" y="814.2"/>
<use href="#pt" x="910.7" y="818.4"/>
<use href="#pr" x="920.3" y="814.2"/>
<use href="#pr" x="919.6" y="820.9"/>
<use href="#pt" x="808.3" y="817.7"/>
<use href="#pr" x="812.3" y="817.0"/>
<use href="#pt" x="853.7" y="826.2"/>
<use href="#pt" x="860.1" y="825.2"/>
<use href="#pr" x="875.2" y="827.6"/>
<use href="#pr" x="879.9" y="826.2"/>
<use href="#pt" x="856.2" y="778.3"/>
<use href="#pt" x="868.9" y="776.9"/>
<use href="#pr" x="860.4" y="782.5"/>
<use href="#pt" x="877.3" y="788.2"/>
<use href="#pt" x="836.5" y="784.7"/>
<use href="#pr" x="846.3" y="781.1"/>
<use href="#pr" x="850.6" y="780.4"/>
<use href="#pt" x="854.8" y="778.3"/>
<use href="#pt" x="859.0" y="776.9"/>
<use href="#pr" x="863.2" y="779.7"/>
<use href="#pt" x="866.8" y="783.3"/>
<use href="#pt" x="874.5" y="781.1"/>
<use href="#pr" x="878.0" y="781.1"/>
<use href="#pr" x="881.6" y="781.1"/>
<use href="#pt" x="897.0" y="781.1"/>
<use href="#pr" x="899.9" y="781.1"/>
<use href="#pt" x="850.6" y="788.2"/>
<use href="#pr" x="857.6" y="790.3"/>
<use href="#pr" x="860.4" y="789.6"/>
<use href="#pt" x="874.5" y="789.6"/>
<use href="#pr" x="881.6" y="788.2"/>
<use href="#pt" x="877.3" y="786.0"/>
<path d="M868.69,795.60 L894.66,684.48 L922.39,573.36 L968.14,462.16 L1082.85,351.04" fill="none" stroke="#F26E66" stroke-width="3.1" stroke-linejoin="round"/>
<path d="M867.51,795.60 L887.20,684.48 L908.21,573.36 L936.20,462.16 L982.11,351.04" fill="none" stroke="#1BBCC3" stroke-width="3.1" stroke-linejoin="round"/>
<circle cx="867.51" cy="795.60" r="5.7" fill="#1BBCC3"/>
<circle cx="887.20" cy="684.48" r="5.7" fill="#1BBCC3"/>
<circle cx="908.21" cy="573.36" r="5.7" fill="#1BBCC3"/>
<circle cx="936.20" cy="462.16" r="5.7" fill="#1BBCC3"/>
<circle cx="982.11" cy="351.04" r="5.7" fill="#1BBCC3"/>
<circle cx="868.69" cy="795.60" r="5.7" fill="#F26E66"/>
<circle cx="894.66" cy="684.48" r="5.7" fill="#F26E66"/>
<circle cx="922.39" cy="573.36" r="5.7" fill="#F26E66"/>
<circle cx="968.14" cy="462.16" r="5.7" fill="#F26E66"/>
<circle cx="1082.85" cy="351.04" r="5.7" fill="#F26E66"/>
<path d="M845.80,795.60 L891.59,795.60 M845.80,778.00 L845.80,813.20 M891.59,778.00 L891.59,813.20" fill="none" stroke="#F26E66" stroke-width="3.1"/>
<path d="M854.70,684.48 L934.78,684.48 M854.70,666.88 L854.70,702.08 M934.78,666.88 L934.78,702.08" fill="none" stroke="#F26E66" stroke-width="3.1"/>
<path d="M866.38,573.36 L978.57,573.36 M866.38,555.76 L866.38,590.96 M978.57,555.76 L978.57,590.96" fill="none" stroke="#F26E66" stroke-width="3.1"/>
<path d="M881.63,462.16 L1055.09,462.16 M881.63,444.56 L881.63,479.76 M1055.09,444.56 L1055.09,479.76" fill="none" stroke="#F26E66" stroke-width="3.1"/>
<path d="M936.86,351.04 L1228.80,351.04 M936.86,333.44 L936.86,368.64 M1228.80,333.44 L1228.80,368.64" fill="none" stroke="#F26E66" stroke-width="3.1"/>
</svg>
</svg></div></body></html>
